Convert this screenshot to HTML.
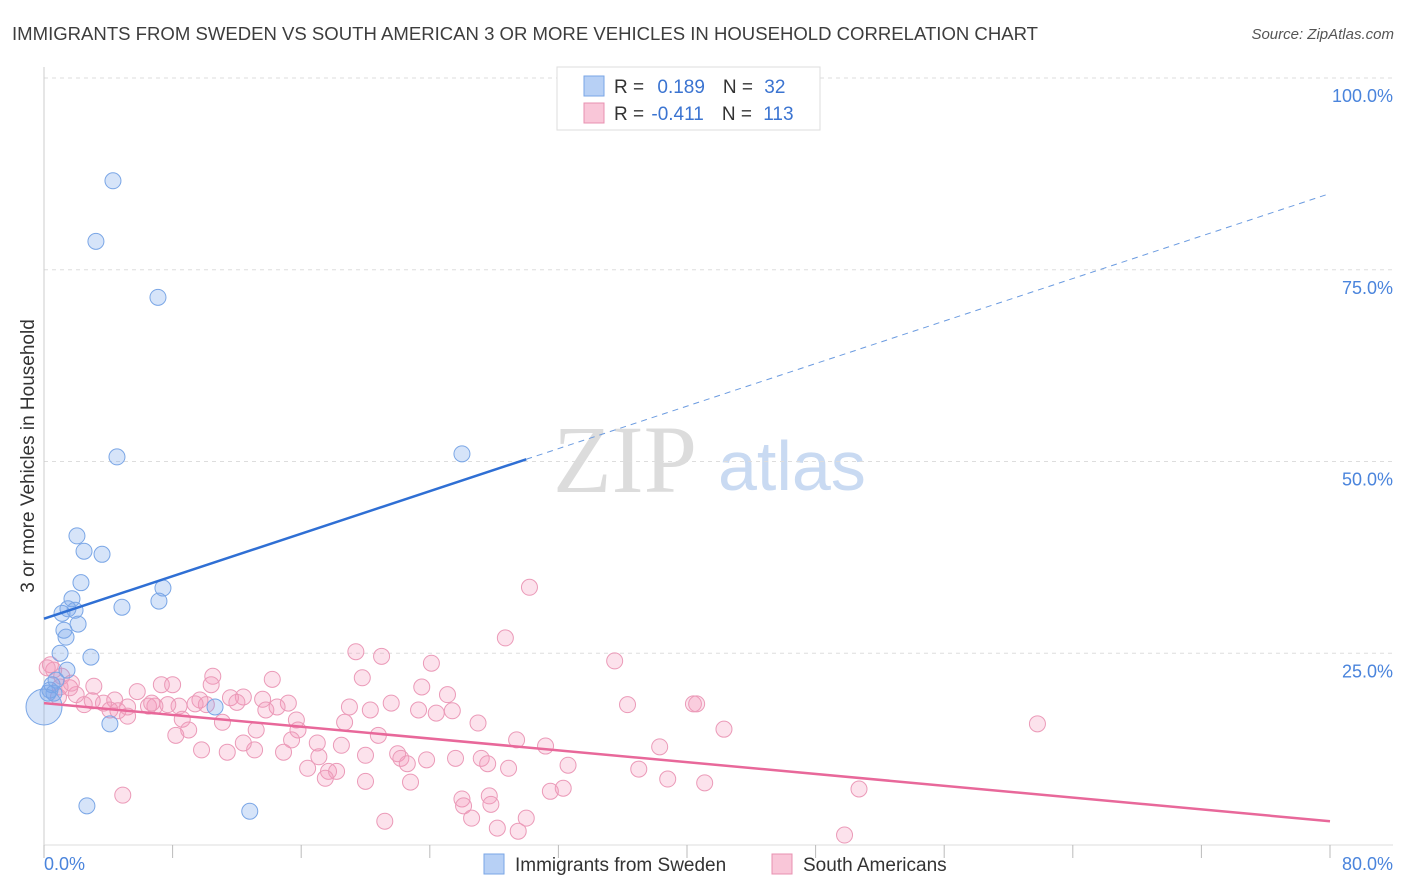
<!DOCTYPE html>
<html><head><meta charset="utf-8"><style>
body{margin:0;background:#fff;font-family:"Liberation Sans",sans-serif}
svg{display:block}
</style></head><body>
<svg id="c" width="1406" height="892" xmlns="http://www.w3.org/2000/svg">
<text x="12" y="40" font-size="18" fill="#3d3d3d" textLength="1026" lengthAdjust="spacingAndGlyphs">IMMIGRANTS FROM SWEDEN VS SOUTH AMERICAN 3 OR MORE VEHICLES IN HOUSEHOLD CORRELATION CHART</text>
<text x="1394" y="39" font-size="15" fill="#555" text-anchor="end" font-style="italic">Source: ZipAtlas.com</text>
<text transform="translate(34,456) rotate(-90)" font-size="19" fill="#333" text-anchor="middle">3 or more Vehicles in Household</text>
<g><text x="553" y="492" font-size="96" font-family="Liberation Serif,serif" fill="#dcdcdc">ZIP</text><text x="718" y="490" font-size="70" fill="#c9daf2">atlas</text></g>
<g id="grid"></g><g id="marks"></g>
<g>
<rect x="557" y="67" width="263" height="63" fill="#fff" stroke="#ddd"/>
<rect x="584" y="76" width="20" height="20" fill="#b7d0f5" stroke="#7aa6e6"/>
<rect x="584" y="103" width="20" height="20" fill="#f9c6d8" stroke="#e890b0"/>
<text x="614" y="93" font-size="19" fill="#333">R = <tspan fill="#3b74d1" dx="8">0.189</tspan><tspan dx="18" fill="#333">N = </tspan><tspan fill="#3b74d1" dx="6">32</tspan></text>
<text x="614" y="120" font-size="19" fill="#333">R = <tspan fill="#3b74d1" dx="2">-0.411</tspan><tspan dx="18" fill="#333">N = </tspan><tspan fill="#3b74d1" dx="6">113</tspan></text>
</g>
<g>
<rect x="484" y="854" width="20" height="20" fill="#b7d0f5" stroke="#7aa6e6"/>
<text x="515" y="871" font-size="19" fill="#333">Immigrants from Sweden</text>
<rect x="772" y="854" width="20" height="20" fill="#f9c6d8" stroke="#e890b0"/>
<text x="803" y="871" font-size="19" fill="#333">South Americans</text>
</g>
</svg>
<script>
const blueX=[4.29,3.23,7.09,4.54,26.0,2.05,2.49,3.61,2.30,7.40,1.74,4.85,7.15,1.12,1.93,1.49,1.24,2.12,1.37,1.0,2.92,1.43,0.75,0.5,0.37,0.25,0.62,0,10.64,4.1,2.67,12.8];
const blueY=[86.6,78.7,71.4,50.6,51.0,40.3,38.3,37.9,34.2,33.5,32.1,31.0,31.8,30.2,30.6,30.8,28.0,28.8,27.1,25.0,24.5,22.8,21.5,20.9,20.2,19.8,19.8,18.0,18.0,15.8,5.1,4.4];
const pinkX=[30.2,28.7,35.5,19.4,21.0,24.1,14.2,10.5,7.3,8.0,5.8,19.8,23.5,25.1,21.6,23.3,20.3,24.4,25.4,27.0,15.2,12.4,11.6,12.0,9.7,10.1,9.4,8.4,7.7,6.5,6.9,6.7,5.2,4.4,3.7,3.1,3.0,2.5,4.6,4.1,5.2,2.0,1.6,1.0,1.1,0.6,0.4,0.2,1.7,0.9,13.6,14.5,13.8,15.7,15.8,8.6,9.0,8.2,11.1,13.2,18.7,20.8,17.0,15.4,17.1,18.5,20.0,22.0,22.2,23.8,22.6,16.4,17.7,18.2,17.5,20.0,22.8,25.6,27.2,27.6,28.9,29.4,31.2,32.6,36.3,40.4,40.6,42.3,38.3,37.0,38.8,41.1,61.8,50.7,32.3,31.5,26.0,26.1,27.7,27.8,26.6,28.2,29.5,30.0,21.2,49.8,4.9,11.4,13.1,9.8,14.9,12.4,19.0,10.4];
const pinkY=[33.6,27.0,24.0,25.2,24.6,23.7,21.6,22.0,20.9,20.9,20.0,21.8,20.6,19.6,18.5,17.6,17.6,17.2,17.5,15.9,18.5,19.3,19.2,18.6,18.9,18.3,18.4,18.1,18.3,18.1,18.1,18.5,18.0,18.9,18.5,20.7,18.8,18.3,17.5,17.6,16.8,19.6,20.5,20.6,22.0,22.8,23.5,23.1,21.1,19.3,19.0,18.0,17.6,16.3,15.0,16.4,15.0,14.3,16.0,15.0,16.0,14.3,13.3,13.7,11.5,13.0,11.7,11.9,11.3,11.1,10.6,10.0,9.6,9.6,8.7,8.3,8.2,11.3,11.3,10.6,10.0,13.7,12.9,10.4,18.3,18.4,18.4,15.1,12.8,9.9,8.6,8.1,15.8,7.3,7.4,7.0,6.0,5.1,6.4,5.3,3.5,2.2,1.8,3.5,3.1,1.3,6.5,12.1,12.4,12.4,12.1,13.3,18.0,20.9];
const blueFit=[29.5,0.693];
const pinkFit=[18.5,-0.1925];
const yTicks=[25,50,75,100];
const xTickLabels=["0.0%","80.0%"];
const NS="http://www.w3.org/2000/svg";
const X0=44,X1=1330,Y0=845,Y100=78;
const sx=v=>X0+(X1-X0)*v/80, sy=v=>Y0-(Y0-Y100)*v/100;
function mk(t,a,p){const e=document.createElementNS(NS,t);for(const k in a)e.setAttribute(k,a[k]);p.appendChild(e);return e;}
const g=document.getElementById('grid'), m=document.getElementById('marks');
yTicks.forEach(t=>{
 const l=mk('line',{x1:X0,x2:1393,y1:sy(t),y2:sy(t),stroke:'#ddd','stroke-dasharray':'4,4'},g);
 
 
 const tx=mk('text',{x:1393,y:sy(t)+24,'font-size':18,fill:'#4a84dc','text-anchor':'end'},g);tx.textContent=t.toFixed(1)+'%';
 
 
});
const ax=mk('line',{x1:X0,x2:X0,y1:67,y2:Y0,stroke:'#ccc'},g);


const bx=mk('line',{x1:X0,x2:1393,y1:Y0,y2:Y0,stroke:'#ddd'},g);


for(let i=0;i<=10;i++){const t=mk('line',{x1:sx(i*8),x2:sx(i*8),y1:Y0,y2:858,stroke:'#bbb'},g);
 
 }
const l0=mk('text',{x:44,y:870,'font-size':18,fill:'#4a84dc'},g);l0.textContent=xTickLabels[0];


const l1=mk('text',{x:1393,y:870,'font-size':18,fill:'#4a84dc','text-anchor':'end'},g);l1.textContent=xTickLabels[1];


pinkX.forEach((x,i)=>{const c=mk('circle',{cx:sx(x),cy:sy(pinkY[i]),r:8,fill:'rgba(244,150,185,0.28)',stroke:'#eb9ab8','stroke-width':1},m);
 
 });
blueX.forEach((x,i)=>{const big=(x===0);const c=mk('circle',{cx:sx(x),cy:sy(blueY[i]),r:big?18:8,fill:'rgba(120,165,235,0.3)',stroke:'#7aa6e6','stroke-width':1},m);
 
 });
const bl=mk('line',{x1:sx(0),y1:sy(blueFit[0]),x2:sx(30),y2:sy(blueFit[0]+blueFit[1]*30),stroke:'#2f6fd4','stroke-width':2.5},m);


const bd=mk('line',{x1:sx(30),y1:sy(blueFit[0]+blueFit[1]*30),x2:sx(80),y2:sy(blueFit[0]+blueFit[1]*80),stroke:'#6b9be0','stroke-width':1,'stroke-dasharray':'6,5'},m);


const pl=mk('line',{x1:sx(0),y1:sy(pinkFit[0]),x2:sx(80),y2:sy(pinkFit[0]+pinkFit[1]*80),stroke:'#e8689a','stroke-width':2.5},m);


</script>
</body></html>
